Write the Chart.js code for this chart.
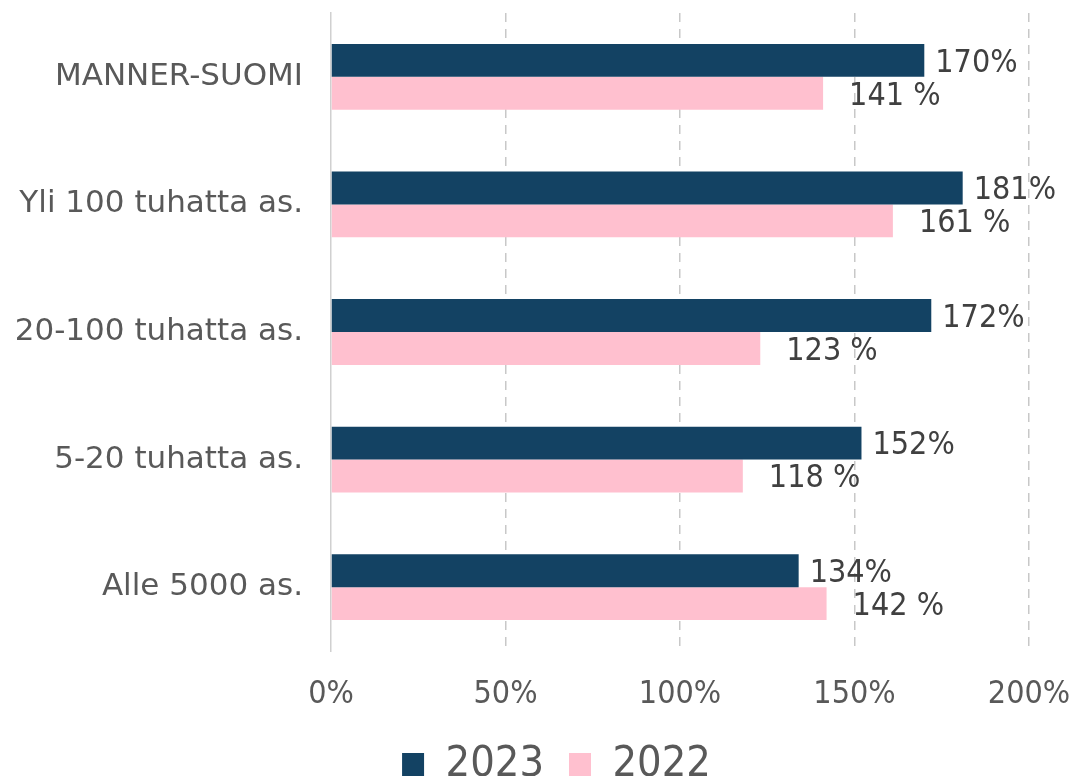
<!DOCTYPE html>
<html>
<head>
<meta charset="utf-8">
<script src="https://cdn.jsdelivr.net/npm/chart.js@4"></script>
<style>
  html, body { margin: 0; padding: 0; background: #fff; }
  #wrap { width: 1076px; height: 776px; }
</style>
</head>
<body>
<div id="wrap"><canvas id="kuvaaja" width="1076" height="776"></canvas></div>
<script>
// Kategoriat ja arvot (%)
const kategoriat = ['MANNER-SUOMI', 'Yli 100 tuhatta as.', '20-100 tuhatta as.', '5-20 tuhatta as.', 'Alle 5000 as.'];
const arvot2023 = [170, 181, 172, 152, 134];
const arvot2022 = [141, 161, 123, 118, 142];
const xTikit = [0, 50, 100, 150, 200];

const kapea = '"DejaVu Sans Condensed", "DejaVu Sans", sans-serif';
const levea = '"DejaVu Sans", sans-serif';

// Arvojen tekstit palkkien perään
const arvoTekstit = {
  id: 'arvoTekstit',
  afterLayout(chart) {
    // selite hieman oikealle kuten alkuperäisessä
    if (chart.legend) {
      chart.legend.left += 42;
      chart.legend.right += 42;
    }
  },
  afterDatasetsDraw(chart) {
    const ctx = chart.ctx;
    ctx.save();
    ctx.font = '32px ' + kapea;
    ctx.fillStyle = '#404040';
    ctx.textAlign = 'left';
    ctx.textBaseline = 'middle';
    chart.data.datasets.forEach(function(ds, i) {
      const meta = chart.getDatasetMeta(i);
      meta.data.forEach(function(el, j) {
        const teksti = i === 0 ? ds.data[j] + '%' : ds.data[j] + ' %';
        const siirto = i === 0 ? 11 : 26;
        ctx.fillText(teksti, el.x + siirto, el.y + 3);
      });
    });
    ctx.restore();
  }
};

new Chart(document.getElementById('kuvaaja').getContext('2d'), {
  type: 'bar',
  data: {
    labels: kategoriat,
    datasets: [{
      label: '2023',
      data: arvot2023,
      backgroundColor: '#134263',
      borderWidth: 0,
      categoryPercentage: 0.516,
      barPercentage: 1
    }, {
      label: '2022',
      data: arvot2022,
      backgroundColor: '#ffc0cf',
      borderWidth: 0,
      categoryPercentage: 0.516,
      barPercentage: 1
    }]
  },
  options: {
    indexAxis: 'y',
    responsive: false,
    animation: false,
    layout: { padding: { top: 13, right: 47, left: 0, bottom: -20 } },
    scales: {
      x: {
        min: 0,
        max: 200,
        afterBuildTicks: function(scale) {
          scale.ticks = xTikit.map(v => ({ value: v }));
        },
        afterFit: function(scale) {
          scale.height = 67;
          scale.paddingLeft = 0;
          scale.paddingRight = 0;
        },
        ticks: {
          callback: v => v + '%',
          color: '#595959',
          font: { family: kapea, size: 32 },
          padding: 24,
          maxRotation: 0
        },
        grid: {
          color: ctx => ctx.index === 0 ? 'rgba(0,0,0,0)' : '#c8c8c8',
          lineWidth: 1.5,
          drawTicks: false
        },
        border: { display: false, dash: [9, 7] }
      },
      y: {
        afterFit: function(scale) {
          scale.width = 331;
          scale.paddingTop = 0;
          scale.paddingBottom = 0;
        },
        ticks: {
          color: '#595959',
          font: { family: levea, size: 31 },
          padding: 20
        },
        grid: { display: false },
        border: { display: true, color: '#d0d0d0', width: 1.5 }
      }
    },
    plugins: {
      legend: {
        position: 'bottom',
        labels: {
          color: '#595959',
          font: { family: kapea, size: 43 },
          boxWidth: 22,
          boxHeight: 23,
          padding: 25
        }
      },
      tooltip: { enabled: false }
    }
  },
  plugins: [arvoTekstit]
});
</script>
</body>
</html>
